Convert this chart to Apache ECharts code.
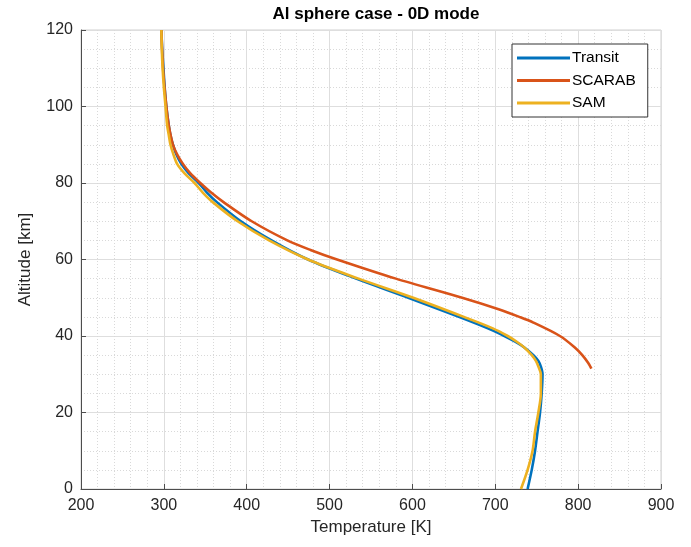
<!DOCTYPE html>
<html>
<head>
<meta charset="utf-8">
<script src="https://cdn.jsdelivr.net/npm/echarts@6/dist/echarts.min.js"></script>
<style>
  html, body { margin: 0; padding: 0; background: #fff; }
  #chart { width: 691px; height: 547px; }
</style>
</head>
<body>
<div id="chart"></div>
<script>
// altitude samples [km] shared by Transit and SAM
var altGrid = [120, 115, 110, 105, 100, 95, 92.5, 90, 87.5, 85, 82.5, 80, 77.5, 75, 70, 65, 60, 55, 50, 45, 42, 40, 38.5, 37, 35, 33.5, 32, 30, 25, 20, 15, 10, 5, 0];
var transitTemp = [297, 298, 299.5, 301, 303, 306, 308, 311, 315, 321, 330, 342, 352, 364, 393, 430, 474, 532, 595, 656, 691, 711, 724, 735, 746, 752, 755, 757, 756, 754, 751, 748, 744, 739];
var samTemp = [297, 297.5, 298.5, 300, 302, 304, 306, 308, 311.5, 316, 325, 337, 347, 359, 389, 427, 474, 535, 601, 662, 697, 715, 726, 735, 744, 749, 752, 755, 755, 752, 748, 745, 739, 731];
// SCARAB stops at ~31.5 km
var scarabAlt = [120, 110, 100, 95, 90, 87.5, 85, 82.5, 80, 77.5, 75, 70, 65, 62.5, 60, 55, 50, 47, 45, 43.5, 40, 37, 35, 33, 31.5];
var scarabTemp = [297, 299, 303, 306, 311, 316, 323, 332, 344, 357, 372, 406, 449, 477, 509, 580, 660, 704, 729, 746, 778, 796, 805, 812, 816];

var xTicks = [200, 300, 400, 500, 600, 700, 800, 900];
var yTicks = [0, 20, 40, 60, 80, 100, 120];

function pairs(temp, alt) {
  return temp.map(function (t, i) { return [t, alt[i]]; });
}

var font = "'Liberation Sans', Arial, sans-serif";
var myChart = echarts.init(document.getElementById("chart"));

function axisStyle(extra) {
  var base = {
    type: "value",
    nameLocation: "middle",
    nameTextStyle: { color: "#262626", fontSize: 17, fontFamily: font },
    axisLine: { show: true, lineStyle: { color: "#4d4d4d", width: 1 } },
    axisTick: { show: true, inside: true, length: 5, lineStyle: { color: "#4d4d4d" } },
    splitLine: { show: true, lineStyle: { color: "#dedede", width: 1 } },
    minorSplitLine: { show: true, lineStyle: { color: "#d9d9d9", width: 1, type: [1, 2] } },
  };
  return Object.assign(base, extra);
}

myChart.setOption({
  backgroundColor: "#fff",
  animation: false,
  title: {
    text: "Al sphere case - 0D mode",
    left: 371,
    textAlign: "center",
    top: 1,
    textStyle: { color: "#000", fontSize: 17, fontWeight: "bold", fontFamily: font },
  },
  grid: {
    left: 81,
    right: 30,
    top: 30,
    bottom: 58,
    show: true,
    borderColor: "#d0d0d0",
    borderWidth: 1,
  },
  legend: {
    orient: "vertical",
    left: 512,
    top: 44,
    padding: [6, 12, 6, 5],
    itemGap: 6.5,
    itemWidth: 53,
    itemHeight: 3,
    icon: "rect",
    borderColor: "#333",
    borderWidth: 1,
    borderRadius: 0,
    backgroundColor: "#fff",
    textStyle: { color: "#000", fontSize: 15.5, fontFamily: font, padding: [0, 0, 0, -3] },
    data: ["Transit", "SCARAB", "SAM"],
  },
  xAxis: axisStyle({
    min: 200,
    max: 900,
    interval: 100,
    name: "Temperature [K]",
    nameGap: 29,
    minorTick: { show: false, splitNumber: 5 },
    axisLabel: {
      color: "#262626", fontSize: 16, fontFamily: font, margin: 9,
      customValues: xTicks,
    },
  }),
  yAxis: axisStyle({
    min: 0,
    max: 120,
    interval: 20,
    name: "Altitude [km]",
    nameGap: 47,
    minorTick: { show: false, splitNumber: 4 },
    axisLabel: {
      color: "#262626", fontSize: 16, fontFamily: font, margin: 8,
      customValues: yTicks,
    },
  }),
  series: [
    {
      name: "Transit",
      type: "line",
      data: pairs(transitTemp, altGrid),
      smooth: 0.3,
      symbol: "none",
      color: "#0072BD",
      lineStyle: { width: 2.6, color: "#0072BD" },
    },
    {
      name: "SCARAB",
      type: "line",
      data: pairs(scarabTemp, scarabAlt),
      smooth: 0.3,
      symbol: "none",
      color: "#D95319",
      lineStyle: { width: 2.6, color: "#D95319" },
    },
    {
      name: "SAM",
      type: "line",
      data: pairs(samTemp, altGrid),
      smooth: 0.3,
      symbol: "none",
      color: "#EDB120",
      lineStyle: { width: 2.6, color: "#EDB120" },
    },
  ],
});
</script>
</body>
</html>
